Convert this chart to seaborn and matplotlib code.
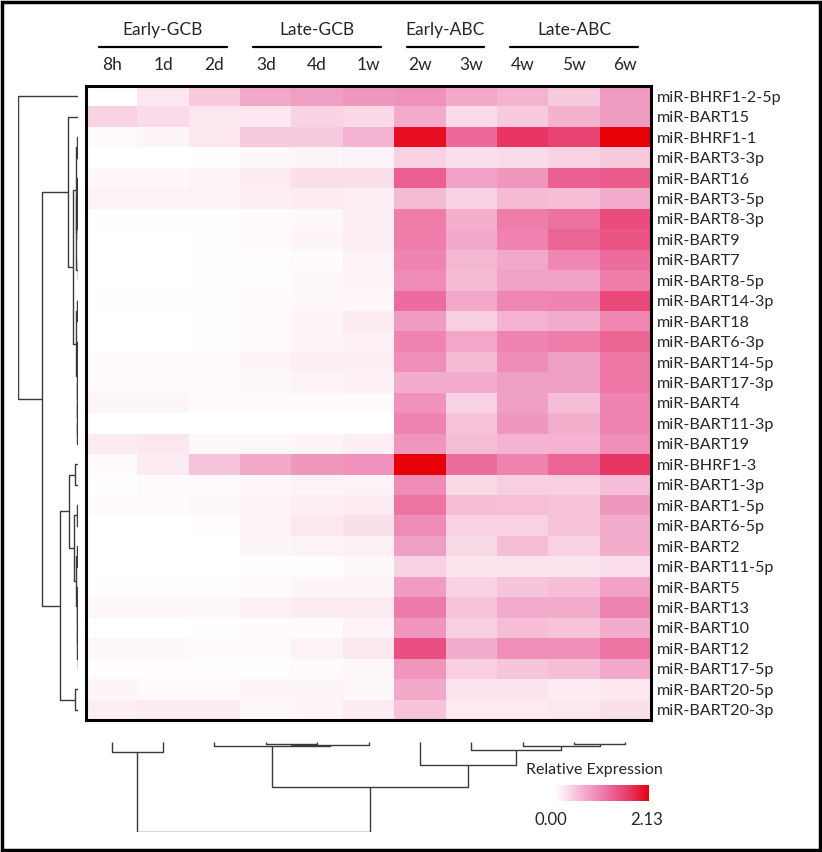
import numpy as np
import pandas as pd
import matplotlib
matplotlib.use("Agg")
import matplotlib.pyplot as plt
import seaborn as sns
from matplotlib.colors import LinearSegmentedColormap
from matplotlib.patches import Rectangle
from matplotlib.transforms import blended_transform_factory

# time points (columns) and miRNAs (rows), in dendrogram order
timepoints = ["8h", "1d", "2d", "3d", "4d", "1w", "2w", "3w", "4w", "5w", "6w"]
mirnas = ["miR-BHRF1-2-5p", "miR-BART15", "miR-BHRF1-1", "miR-BART3-3p", "miR-BART16",
          "miR-BART3-5p", "miR-BART8-3p", "miR-BART9", "miR-BART7", "miR-BART8-5p",
          "miR-BART14-3p", "miR-BART18", "miR-BART6-3p", "miR-BART14-5p", "miR-BART17-3p",
          "miR-BART4", "miR-BART11-3p", "miR-BART19", "miR-BHRF1-3", "miR-BART1-3p",
          "miR-BART1-5p", "miR-BART6-5p", "miR-BART2", "miR-BART11-5p", "miR-BART5",
          "miR-BART13", "miR-BART10", "miR-BART12", "miR-BART17-5p", "miR-BART20-5p",
          "miR-BART20-3p"]

groups = ["Early-GCB", "Late-GCB", "Early-ABC", "Late-ABC"]
group_start = [0, 3, 6, 8]
group_end = [2, 5, 7, 10]

# relative expression
expr = [
    [0.00, 0.21, 0.43, 0.70, 0.79, 0.85, 0.89, 0.70, 0.60, 0.43, 0.81],
    [0.36, 0.30, 0.21, 0.21, 0.36, 0.32, 0.68, 0.30, 0.43, 0.62, 0.81],
    [0.04, 0.09, 0.21, 0.43, 0.43, 0.60, 2.02, 1.24, 1.70, 1.58, 2.13],
    [0.00, 0.00, 0.02, 0.06, 0.09, 0.11, 0.38, 0.28, 0.30, 0.36, 0.43],
    [0.06, 0.06, 0.11, 0.17, 0.26, 0.26, 1.32, 0.77, 0.85, 1.32, 1.36],
    [0.11, 0.11, 0.11, 0.15, 0.17, 0.15, 0.55, 0.38, 0.55, 0.53, 0.68],
    [0.02, 0.02, 0.02, 0.04, 0.06, 0.15, 1.07, 0.64, 1.07, 1.17, 1.49],
    [0.00, 0.00, 0.02, 0.04, 0.09, 0.15, 1.07, 0.70, 1.02, 1.28, 1.41],
    [0.00, 0.00, 0.02, 0.02, 0.04, 0.11, 1.00, 0.58, 0.70, 0.98, 1.21],
    [0.00, 0.00, 0.02, 0.02, 0.06, 0.09, 0.94, 0.55, 0.77, 0.75, 1.07],
    [0.02, 0.02, 0.02, 0.04, 0.06, 0.06, 1.21, 0.70, 0.98, 1.00, 1.53],
    [0.00, 0.00, 0.02, 0.04, 0.09, 0.17, 0.81, 0.40, 0.60, 0.66, 0.98],
    [0.00, 0.00, 0.02, 0.04, 0.09, 0.13, 1.00, 0.72, 1.00, 1.07, 1.28],
    [0.04, 0.04, 0.04, 0.09, 0.15, 0.15, 0.92, 0.55, 0.94, 0.79, 1.13],
    [0.04, 0.04, 0.04, 0.06, 0.11, 0.13, 0.66, 0.66, 0.79, 0.79, 1.13],
    [0.09, 0.09, 0.04, 0.04, 0.04, 0.04, 0.89, 0.38, 0.79, 0.53, 1.00],
    [0.00, 0.00, 0.00, 0.00, 0.00, 0.00, 1.00, 0.49, 0.85, 0.64, 1.00],
    [0.17, 0.21, 0.06, 0.06, 0.09, 0.15, 0.87, 0.53, 0.60, 0.60, 0.92],
    [0.04, 0.17, 0.47, 0.70, 0.85, 0.89, 2.13, 1.21, 1.02, 1.28, 1.70],
    [0.02, 0.04, 0.04, 0.06, 0.11, 0.11, 0.94, 0.32, 0.40, 0.40, 0.53],
    [0.04, 0.04, 0.06, 0.09, 0.15, 0.17, 1.15, 0.53, 0.51, 0.49, 0.85],
    [0.00, 0.00, 0.02, 0.11, 0.21, 0.26, 0.94, 0.38, 0.38, 0.49, 0.66],
    [0.00, 0.00, 0.00, 0.09, 0.11, 0.13, 0.79, 0.32, 0.53, 0.38, 0.66],
    [0.00, 0.00, 0.00, 0.02, 0.02, 0.06, 0.38, 0.23, 0.23, 0.23, 0.28],
    [0.02, 0.02, 0.02, 0.04, 0.09, 0.09, 0.81, 0.38, 0.47, 0.53, 0.75],
    [0.06, 0.06, 0.06, 0.13, 0.17, 0.17, 1.09, 0.49, 0.68, 0.68, 1.00],
    [0.00, 0.00, 0.02, 0.04, 0.04, 0.11, 0.87, 0.40, 0.53, 0.49, 0.66],
    [0.06, 0.06, 0.04, 0.04, 0.11, 0.21, 1.45, 0.66, 0.92, 0.92, 1.15],
    [0.02, 0.02, 0.02, 0.02, 0.04, 0.06, 0.87, 0.40, 0.47, 0.53, 0.70],
    [0.09, 0.04, 0.04, 0.09, 0.09, 0.06, 0.70, 0.23, 0.23, 0.17, 0.21],
    [0.15, 0.17, 0.17, 0.06, 0.09, 0.17, 0.49, 0.19, 0.19, 0.21, 0.26],
]
vmin, vmax = 0.00, 2.13

# cluster trees: (left, right, merge height), leaves are labels
row_tree = (
    "miR-BHRF1-2-5p",
    (
        ("miR-BART15",
         ((("miR-BHRF1-1", "miR-BART3-3p", 0.02),
           (("miR-BART16", ("miR-BART3-5p", ("miR-BART8-3p", "miR-BART9", 0.005), 0.012), 0.02),
            ("miR-BART7", "miR-BART8-5p", 0.008), 0.03), 0.04),
          (("miR-BART14-3p", "miR-BART18", 0.015),
           (("miR-BART6-3p", "miR-BART14-5p", 0.01),
            ("miR-BART17-3p", ("miR-BART4", ("miR-BART11-3p", "miR-BART19", 0.01), 0.015), 0.02), 0.025), 0.035),
          0.083),
         0.167),
        ((("miR-BHRF1-3", "miR-BART1-3p", 0.05),
          (("miR-BART1-5p", "miR-BART6-5p", 0.02),
           (("miR-BART2", "miR-BART11-5p", 0.015),
            ("miR-BART5", ("miR-BART13", ("miR-BART10", ("miR-BART12", "miR-BART17-5p", 0.008), 0.012), 0.018), 0.025), 0.035),
           0.067),
          0.15),
         ("miR-BART20-5p", "miR-BART20-3p", 0.05),
         0.3),
        0.6),
    1.0)

col_tree = (
    ("8h", "1d", 0.11),
    (("2d", (("3d", "4d", 0.017), "1w", 0.028), 0.045),
     ("2w", ("3w", ("4w", ("5w", "6w", 0.022), 0.045), 0.09), 0.255),
     0.5),
    1.0)


def draw_tree(ax, node, order, vertical):
    # returns (leaf position, height) and draws the U links
    if isinstance(node, str):
        return order.index(node) + 0.5, 0.0
    p1, h1 = draw_tree(ax, node[0], order, vertical)
    p2, h2 = draw_tree(ax, node[1], order, vertical)
    h = node[2]
    xs = [h1, h, h, h2]
    ys = [p1, p1, p2, p2]
    if vertical:
        ax.plot(xs, ys, color="#3a3a3a", lw=1.0, solid_capstyle="butt")
    else:
        ax.plot(ys, xs, color="#3a3a3a", lw=1.0, solid_capstyle="butt")
    return (p1 + p2) / 2, h


df = pd.DataFrame(expr, index=mirnas, columns=timepoints)

cmap = LinearSegmentedColormap.from_list("relexp", [
    (0.00, "#FFFFFF"), (0.10, "#FCE6F0"), (0.18, "#F8D0E2"), (0.28, "#F4B4D0"),
    (0.38, "#F09CC2"), (0.47, "#EF84B0"), (0.57, "#EC6D9D"), (0.64, "#EA5A8B"),
    (0.72, "#E94878"), (0.80, "#E83563"), (1.00, "#E60008")])

sns.set_style("white")
plt.rcParams["font.family"] = ["Lato", "DejaVu Sans"]

W, H = 822, 852
fig = plt.figure(figsize=(W / 100, H / 100), dpi=100)


def px_axes(x0, y0, x1, y1):
    return fig.add_axes([x0 / W, 1 - y1 / H, (x1 - x0) / W, (y1 - y0) / H])


ax = px_axes(86, 86, 651, 720)
cax = px_axes(555, 785, 649, 801)
sns.heatmap(df, ax=ax, cmap=cmap, vmin=vmin, vmax=vmax, cbar_ax=cax,
            cbar_kws={"orientation": "horizontal"})

ax.yaxis.tick_right()
ax.xaxis.tick_top()
ax.tick_params(axis="y", length=0, pad=4, labelsize=11.6, rotation=0)
ax.tick_params(axis="x", length=0, pad=9, labelsize=12.5, rotation=0)
ax.set_xlabel("")
ax.set_ylabel("")
for s in ax.spines.values():
    s.set_visible(True)
    s.set_linewidth(2.2)
    s.set_color("black")

# group headers with underlines
tr = blended_transform_factory(ax.transData, fig.transFigure)
for g, a, b in zip(groups, group_start, group_end):
    ax.plot([a + 0.25, b + 0.75], [1 - 47 / H, 1 - 47 / H], color="black", lw=1.6,
            transform=tr, clip_on=False)
    ax.text((a + b + 1) / 2, 1 - 30 / H, g, transform=tr, ha="center", va="center",
            fontsize=12.5)

# row dendrogram
rax = px_axes(18, 86, 78, 720)
draw_tree(rax, row_tree, mirnas, True)
rax.set_xlim(1.0, 0.0)
rax.set_ylim(len(mirnas), 0)
rax.axis("off")

# column dendrogram
dax = px_axes(86, 742, 651, 832)
draw_tree(dax, col_tree, timepoints, False)
dax.set_xlim(0, len(timepoints))
dax.set_ylim(1.0, 0.0)
dax.axis("off")

# colorbar
cax.set_xticks([])
cax.set_yticks([])
for s in cax.spines.values():
    s.set_visible(False)
fig.text(594 / W, 1 - 770 / H, "Relative Expression", ha="center", va="center", fontsize=11.5)
fig.text(551 / W, 1 - 820 / H, f"{vmin:.2f}", ha="center", va="center", fontsize=12)
fig.text(647 / W, 1 - 820 / H, f"{vmax:.2f}", ha="center", va="center", fontsize=12)

# outer frame
fig.patches.append(Rectangle((2 / W, 2 / H), 1 - 4 / W, 1 - 4 / H, transform=fig.transFigure,
                             fill=False, lw=2.5, ec="black"))

fig.savefig("out.png", dpi=100)
